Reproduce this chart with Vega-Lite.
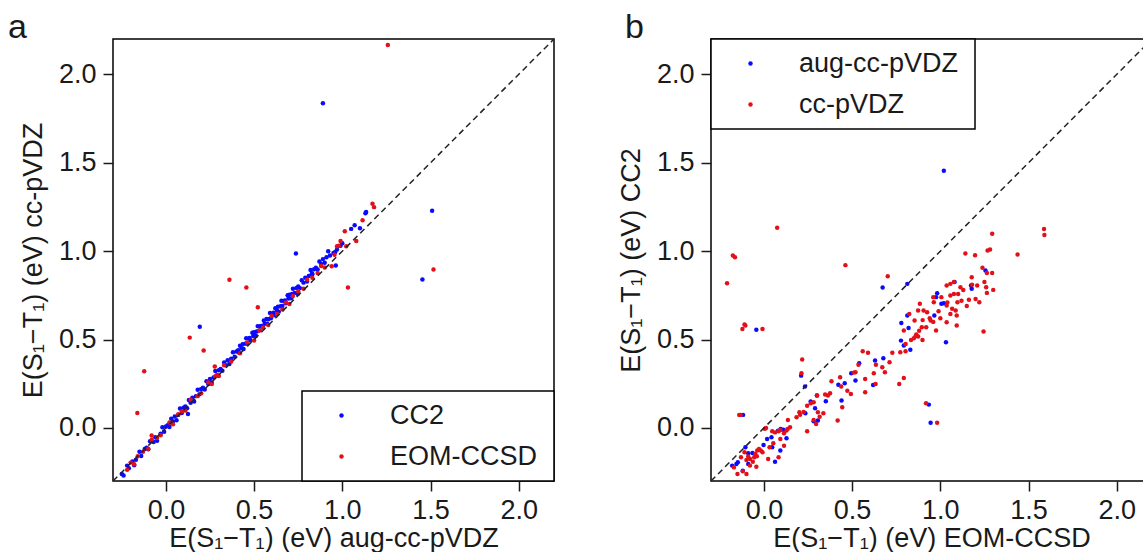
{
"$schema": "https://vega.github.io/schema/vega-lite/v6.json",
"padding": {"left": 7, "top": 10, "right": 0, "bottom": 0},
"spacing": 58,
"resolve": {"scale": {"color": "independent"}, "legend": {"color": "independent"}},
"config": {
  "view": {"stroke": "black", "strokeWidth": 1.5},
  "font": "Liberation Sans",
  "axis": {"domain": false, "grid": false, "tickColor": "#1a1a1a", "tickSize": 10, "tickWidth": 1.5, "labelFont": "Liberation Sans", "labelFontSize": 27, "labelColor": "#1a1a1a", "labelPadding": 7, "titleFont": "Liberation Sans", "titleFontSize": 27, "titleFontWeight": "normal", "titleColor": "#1a1a1a"},
  "axisX": {"titlePadding": 2, "labelPadding": 6},
  "axisY": {"titlePadding": 11},
  "legend": {"labelFont": "Liberation Sans", "labelFontSize": 27, "labelColor": "#1a1a1a", "symbolType": "circle", "symbolSize": 20, "symbolStrokeWidth": 0, "strokeColor": "black", "strokeWidth": 1.5, "fillColor": "white", "padding": 11, "offset": 0, "symbolOffset": 15, "labelOffset": 35, "rowPadding": 13, "titleOrient": "right", "titlePadding": 6, "titleFontSize": 10},
  "title": {"font": "Liberation Sans", "fontSize": 34, "fontWeight": "normal", "color": "#1a1a1a", "anchor": "start", "baseline": "alphabetic", "offset": -9}
},
"datasets": {
  "diag": [{"x": -0.3, "y": -0.3}, {"x": 2.2, "y": 2.2}],
  "a": [
{"s":"CC2","x":-0.25,"y":-0.26},{"s":"CC2","x":-0.24,"y":-0.269},{"s":"CC2","x":-0.22,"y":-0.213},{"s":"CC2","x":-0.21,"y":-0.228},{"s":"CC2","x":-0.19,"y":-0.189},{"s":"CC2","x":-0.18,"y":-0.211},{"s":"CC2","x":-0.17,"y":-0.18},{"s":"CC2","x":-0.15,"y":-0.134},{"s":"CC2","x":-0.14,"y":-0.158},{"s":"CC2","x":-0.12,"y":-0.119},
{"s":"CC2","x":-0.11,"y":-0.112},{"s":"CC2","x":-0.10,"y":-0.121},{"s":"CC2","x":-0.09,"y":-0.075},{"s":"CC2","x":-0.07,"y":-0.079},{"s":"CC2","x":-0.06,"y":-0.052},{"s":"CC2","x":-0.05,"y":-0.073},{"s":"CC2","x":-0.03,"y":-0.032},{"s":"CC2","x":-0.02,"y":0.004},{"s":"CC2","x":-0.01,"y":-0.021},{"s":"CC2","x":0.0,"y":0.008},
{"s":"CC2","x":0.01,"y":0.016},{"s":"CC2","x":0.02,"y":0.006},{"s":"CC2","x":0.03,"y":0.052},{"s":"CC2","x":0.04,"y":0.037},{"s":"CC2","x":0.05,"y":0.065},{"s":"CC2","x":0.06,"y":0.044},{"s":"CC2","x":0.07,"y":0.074},{"s":"CC2","x":0.08,"y":0.11},{"s":"CC2","x":0.09,"y":0.085},{"s":"CC2","x":0.10,"y":0.114},
{"s":"CC2","x":0.11,"y":0.122},{"s":"CC2","x":0.12,"y":0.112},{"s":"CC2","x":0.13,"y":0.158},{"s":"CC2","x":0.14,"y":0.143},{"s":"CC2","x":0.15,"y":0.171},{"s":"CC2","x":0.16,"y":0.15},{"s":"CC2","x":0.17,"y":0.18},{"s":"CC2","x":0.18,"y":0.216},{"s":"CC2","x":0.19,"y":0.191},{"s":"CC2","x":0.20,"y":0.22},
{"s":"CC2","x":0.21,"y":0.228},{"s":"CC2","x":0.22,"y":0.218},{"s":"CC2","x":0.23,"y":0.264},{"s":"CC2","x":0.24,"y":0.249},{"s":"CC2","x":0.25,"y":0.277},{"s":"CC2","x":0.26,"y":0.256},{"s":"CC2","x":0.27,"y":0.286},{"s":"CC2","x":0.28,"y":0.322},{"s":"CC2","x":0.29,"y":0.297},{"s":"CC2","x":0.30,"y":0.326},
{"s":"CC2","x":0.31,"y":0.334},{"s":"CC2","x":0.32,"y":0.324},{"s":"CC2","x":0.33,"y":0.37},{"s":"CC2","x":0.34,"y":0.355},{"s":"CC2","x":0.35,"y":0.383},{"s":"CC2","x":0.36,"y":0.362},{"s":"CC2","x":0.37,"y":0.392},{"s":"CC2","x":0.38,"y":0.428},{"s":"CC2","x":0.39,"y":0.403},{"s":"CC2","x":0.40,"y":0.432},
{"s":"CC2","x":0.41,"y":0.44},{"s":"CC2","x":0.415,"y":0.425},{"s":"CC2","x":0.42,"y":0.465},{"s":"CC2","x":0.43,"y":0.451},{"s":"CC2","x":0.435,"y":0.473},{"s":"CC2","x":0.44,"y":0.446},{"s":"CC2","x":0.45,"y":0.477},{"s":"CC2","x":0.455,"y":0.507},{"s":"CC2","x":0.46,"y":0.478},{"s":"CC2","x":0.47,"y":0.506},
{"s":"CC2","x":0.475,"y":0.509},{"s":"CC2","x":0.48,"y":0.494},{"s":"CC2","x":0.49,"y":0.539},{"s":"CC2","x":0.495,"y":0.52},{"s":"CC2","x":0.50,"y":0.542},{"s":"CC2","x":0.51,"y":0.521},{"s":"CC2","x":0.515,"y":0.546},{"s":"CC2","x":0.52,"y":0.576},{"s":"CC2","x":0.53,"y":0.552},{"s":"CC2","x":0.535,"y":0.575},
{"s":"CC2","x":0.54,"y":0.577},{"s":"CC2","x":0.55,"y":0.568},{"s":"CC2","x":0.555,"y":0.608},{"s":"CC2","x":0.56,"y":0.589},{"s":"CC2","x":0.57,"y":0.616},{"s":"CC2","x":0.575,"y":0.59},{"s":"CC2","x":0.58,"y":0.615},{"s":"CC2","x":0.59,"y":0.65},{"s":"CC2","x":0.595,"y":0.621},{"s":"CC2","x":0.60,"y":0.644},
{"s":"CC2","x":0.61,"y":0.652},{"s":"CC2","x":0.615,"y":0.637},{"s":"CC2","x":0.62,"y":0.677},{"s":"CC2","x":0.63,"y":0.663},{"s":"CC2","x":0.635,"y":0.685},{"s":"CC2","x":0.64,"y":0.658},{"s":"CC2","x":0.65,"y":0.689},{"s":"CC2","x":0.655,"y":0.719},{"s":"CC2","x":0.66,"y":0.69},{"s":"CC2","x":0.67,"y":0.718},
{"s":"CC2","x":0.675,"y":0.721},{"s":"CC2","x":0.68,"y":0.706},{"s":"CC2","x":0.69,"y":0.751},{"s":"CC2","x":0.695,"y":0.732},{"s":"CC2","x":0.70,"y":0.754},{"s":"CC2","x":0.71,"y":0.733},{"s":"CC2","x":0.715,"y":0.758},{"s":"CC2","x":0.72,"y":0.788},{"s":"CC2","x":0.73,"y":0.764},{"s":"CC2","x":0.74,"y":0.792},
{"s":"CC2","x":0.75,"y":0.8},{"s":"CC2","x":0.76,"y":0.791},{"s":"CC2","x":0.77,"y":0.836},{"s":"CC2","x":0.78,"y":0.822},{"s":"CC2","x":0.79,"y":0.849},{"s":"CC2","x":0.80,"y":0.828},{"s":"CC2","x":0.81,"y":0.859},{"s":"CC2","x":0.82,"y":0.894},{"s":"CC2","x":0.83,"y":0.87},{"s":"CC2","x":0.84,"y":0.898},
{"s":"CC2","x":0.85,"y":0.906},{"s":"CC2","x":0.86,"y":0.897},{"s":"CC2","x":0.87,"y":0.942},{"s":"CC2","x":0.88,"y":0.928},{"s":"CC2","x":0.89,"y":0.955},{"s":"CC2","x":0.90,"y":0.934},{"s":"CC2","x":0.91,"y":0.965},{"s":"CC2","x":0.92,"y":1.0},{"s":"CC2","x":0.93,"y":0.976},
{"s":"CC2","x":0.89,"y":1.836},{"s":"CC2","x":1.509,"y":1.228},{"s":"CC2","x":1.454,"y":0.84},{"s":"CC2","x":0.737,"y":0.987},{"s":"CC2","x":0.963,"y":0.919},{"s":"CC2","x":0.828,"y":0.875},{"s":"CC2","x":1.07,"y":1.147},{"s":"CC2","x":1.05,"y":1.126},{"s":"CC2","x":1.10,"y":1.13},{"s":"CC2","x":1.131,"y":1.215},{"s":"CC2","x":1.135,"y":1.222},{"s":"CC2","x":0.192,"y":0.572},{"s":"CC2","x":0.125,"y":0.079},{"s":"CC2","x":0.747,"y":0.758},{"s":"CC2","x":0.95,"y":0.99},{"s":"CC2","x":0.97,"y":1.01},{"s":"CC2","x":0.99,"y":1.03},{"s":"CC2","x":1.0,"y":1.045},{"s":"CC2","x":0.96,"y":0.995},
{"s":"EOM-CCSD","x":-0.22,"y":-0.237},{"s":"EOM-CCSD","x":-0.2,"y":-0.196},{"s":"EOM-CCSD","x":-0.18,"y":-0.205},{"s":"EOM-CCSD","x":-0.16,"y":-0.16},{"s":"EOM-CCSD","x":-0.13,"y":-0.134},{"s":"EOM-CCSD","x":-0.1,"y":-0.118},{"s":"EOM-CCSD","x":-0.08,"y":-0.067},{"s":"EOM-CCSD","x":-0.05,"y":-0.057},{"s":"EOM-CCSD","x":-0.03,"y":-0.041},{"s":"EOM-CCSD","x":0.02,"y":0.031},
{"s":"EOM-CCSD","x":0.04,"y":0.021},{"s":"EOM-CCSD","x":0.07,"y":0.077},{"s":"EOM-CCSD","x":0.09,"y":0.093},{"s":"EOM-CCSD","x":0.11,"y":0.098},{"s":"EOM-CCSD","x":0.14,"y":0.159},{"s":"EOM-CCSD","x":0.18,"y":0.18},{"s":"EOM-CCSD","x":0.2,"y":0.196},{"s":"EOM-CCSD","x":0.24,"y":0.257},{"s":"EOM-CCSD","x":0.26,"y":0.248},{"s":"EOM-CCSD","x":0.28,"y":0.293},
{"s":"EOM-CCSD","x":0.29,"y":0.299},{"s":"EOM-CCSD","x":0.3,"y":0.294},{"s":"EOM-CCSD","x":0.33,"y":0.355},{"s":"EOM-CCSD","x":0.37,"y":0.376},{"s":"EOM-CCSD","x":0.42,"y":0.423},{"s":"EOM-CCSD","x":0.46,"y":0.484},{"s":"EOM-CCSD","x":0.5,"y":0.495},{"s":"EOM-CCSD","x":0.53,"y":0.551},{"s":"EOM-CCSD","x":0.55,"y":0.567},{"s":"EOM-CCSD","x":0.58,"y":0.582},
{"s":"EOM-CCSD","x":0.6,"y":0.633},{"s":"EOM-CCSD","x":0.63,"y":0.644},{"s":"EOM-CCSD","x":0.66,"y":0.67},{"s":"EOM-CCSD","x":0.68,"y":0.71},{"s":"EOM-CCSD","x":0.7,"y":0.701},{"s":"EOM-CCSD","x":0.72,"y":0.747},{"s":"EOM-CCSD","x":0.75,"y":0.773},{"s":"EOM-CCSD","x":0.78,"y":0.788},{"s":"EOM-CCSD","x":0.8,"y":0.839},{"s":"EOM-CCSD","x":0.83,"y":0.85},
{"s":"EOM-CCSD","x":0.86,"y":0.876},{"s":"EOM-CCSD","x":0.88,"y":0.916},{"s":"EOM-CCSD","x":0.9,"y":0.907},
{"s":"EOM-CCSD","x":1.258,"y":2.166},{"s":"EOM-CCSD","x":1.517,"y":0.896},{"s":"EOM-CCSD","x":1.171,"y":1.268},{"s":"EOM-CCSD","x":1.18,"y":1.249},{"s":"EOM-CCSD","x":1.115,"y":1.175},{"s":"EOM-CCSD","x":1.014,"y":1.113},{"s":"EOM-CCSD","x":1.079,"y":1.057},{"s":"EOM-CCSD","x":0.99,"y":1.057},{"s":"EOM-CCSD","x":0.97,"y":1.028},{"s":"EOM-CCSD","x":0.98,"y":1.03},
{"s":"EOM-CCSD","x":1.022,"y":1.028},{"s":"EOM-CCSD","x":0.94,"y":0.915},{"s":"EOM-CCSD","x":0.956,"y":0.98},{"s":"EOM-CCSD","x":0.36,"y":0.838},{"s":"EOM-CCSD","x":0.456,"y":0.794},{"s":"EOM-CCSD","x":1.032,"y":0.794},{"s":"EOM-CCSD","x":0.521,"y":0.683},{"s":"EOM-CCSD","x":0.135,"y":0.511},{"s":"EOM-CCSD","x":0.214,"y":0.438},{"s":"EOM-CCSD","x":-0.123,"y":0.321},
{"s":"EOM-CCSD","x":0.277,"y":0.347},{"s":"EOM-CCSD","x":-0.162,"y":0.085},{"s":"EOM-CCSD","x":-0.081,"y":-0.043}
  ],
  "b": [
{"s":"aug-cc-pVDZ","x":1.02,"y":1.455},{"s":"aug-cc-pVDZ","x":1.256,"y":0.89},{"s":"aug-cc-pVDZ","x":0.673,"y":0.794},{"s":"aug-cc-pVDZ","x":0.813,"y":0.815},{"s":"aug-cc-pVDZ","x":1.081,"y":0.825},{"s":"aug-cc-pVDZ","x":1.174,"y":0.806},{"s":"aug-cc-pVDZ","x":1.178,"y":0.787},{"s":"aug-cc-pVDZ","x":0.982,"y":0.762},{"s":"aug-cc-pVDZ","x":0.976,"y":0.74},{"s":"aug-cc-pVDZ","x":1.006,"y":0.702},
{"s":"aug-cc-pVDZ","x":1.02,"y":0.706},{"s":"aug-cc-pVDZ","x":0.966,"y":0.636},{"s":"aug-cc-pVDZ","x":1.032,"y":0.485},{"s":"aug-cc-pVDZ","x":0.779,"y":0.594},{"s":"aug-cc-pVDZ","x":0.813,"y":0.636},{"s":"aug-cc-pVDZ","x":0.82,"y":0.566},{"s":"aug-cc-pVDZ","x":0.777,"y":0.494},{"s":"aug-cc-pVDZ","x":0.793,"y":0.466},{"s":"aug-cc-pVDZ","x":0.83,"y":0.442},{"s":"aug-cc-pVDZ","x":0.677,"y":0.394},
{"s":"aug-cc-pVDZ","x":0.63,"y":0.381},{"s":"aug-cc-pVDZ","x":0.619,"y":0.243},{"s":"aug-cc-pVDZ","x":0.54,"y":0.366},{"s":"aug-cc-pVDZ","x":0.495,"y":0.309},{"s":"aug-cc-pVDZ","x":0.519,"y":0.268},{"s":"aug-cc-pVDZ","x":0.458,"y":0.253},{"s":"aug-cc-pVDZ","x":0.422,"y":0.245},{"s":"aug-cc-pVDZ","x":0.44,"y":0.155},{"s":"aug-cc-pVDZ","x":0.351,"y":0.151},{"s":"aug-cc-pVDZ","x":0.306,"y":0.042},
{"s":"aug-cc-pVDZ","x":0.282,"y":0.038},{"s":"aug-cc-pVDZ","x":0.30,"y":0.183},{"s":"aug-cc-pVDZ","x":0.235,"y":0.083},{"s":"aug-cc-pVDZ","x":0.29,"y":0.111},{"s":"aug-cc-pVDZ","x":0.233,"y":0.234},{"s":"aug-cc-pVDZ","x":0.211,"y":0.296},{"s":"aug-cc-pVDZ","x":0.128,"y":-0.058},{"s":"aug-cc-pVDZ","x":0.095,"y":-0.006},{"s":"aug-cc-pVDZ","x":0.08,"y":-0.015},{"s":"aug-cc-pVDZ","x":0.043,"y":-0.053},
{"s":"aug-cc-pVDZ","x":0.018,"y":-0.062},{"s":"aug-cc-pVDZ","x":-0.002,"y":-0.096},{"s":"aug-cc-pVDZ","x":0.047,"y":-0.109},{"s":"aug-cc-pVDZ","x":0.093,"y":-0.128},{"s":"aug-cc-pVDZ","x":0.063,"y":-0.191},{"s":"aug-cc-pVDZ","x":-0.065,"y":-0.142},{"s":"aug-cc-pVDZ","x":-0.089,"y":-0.143},{"s":"aug-cc-pVDZ","x":-0.105,"y":-0.109},{"s":"aug-cc-pVDZ","x":-0.089,"y":-0.204},{"s":"aug-cc-pVDZ","x":-0.148,"y":-0.194},
{"s":"aug-cc-pVDZ","x":-0.156,"y":-0.204},{"s":"aug-cc-pVDZ","x":-0.18,"y":-0.213},{"s":"aug-cc-pVDZ","x":-0.12,"y":-0.242},{"s":"aug-cc-pVDZ","x":-0.118,"y":0.074},{"s":"aug-cc-pVDZ","x":-0.043,"y":0.555},{"s":"aug-cc-pVDZ","x":0.935,"y":0.132},{"s":"aug-cc-pVDZ","x":0.945,"y":0.03},{"s":"aug-cc-pVDZ","x":0.11,"y":-0.01},{"s":"aug-cc-pVDZ","x":0.265,"y":0.15},
{"s":"cc-pVDZ","x":0.075,"y":1.132},{"s":"cc-pVDZ","x":-0.176,"y":0.975},{"s":"cc-pVDZ","x":-0.164,"y":0.966},{"s":"cc-pVDZ","x":0.462,"y":0.921},{"s":"cc-pVDZ","x":1.294,"y":1.098},{"s":"cc-pVDZ","x":1.588,"y":1.125},{"s":"cc-pVDZ","x":1.59,"y":1.092},{"s":"cc-pVDZ","x":1.142,"y":0.987},{"s":"cc-pVDZ","x":1.197,"y":0.977},{"s":"cc-pVDZ","x":1.268,"y":1.004},
{"s":"cc-pVDZ","x":1.282,"y":1.009},{"s":"cc-pVDZ","x":1.438,"y":0.981},{"s":"cc-pVDZ","x":1.239,"y":0.906},{"s":"cc-pVDZ","x":1.264,"y":0.877},{"s":"cc-pVDZ","x":1.294,"y":0.877},{"s":"cc-pVDZ","x":0.702,"y":0.858},{"s":"cc-pVDZ","x":1.178,"y":0.853},{"s":"cc-pVDZ","x":-0.209,"y":0.819},{"s":"cc-pVDZ","x":1.036,"y":0.806},{"s":"cc-pVDZ","x":1.057,"y":0.815},
{"s":"cc-pVDZ","x":1.077,"y":0.825},{"s":"cc-pVDZ","x":1.114,"y":0.796},{"s":"cc-pVDZ","x":1.209,"y":0.806},{"s":"cc-pVDZ","x":1.25,"y":0.825},{"s":"cc-pVDZ","x":1.26,"y":0.796},{"s":"cc-pVDZ","x":1.30,"y":0.781},{"s":"cc-pVDZ","x":1.264,"y":0.764},{"s":"cc-pVDZ","x":1.162,"y":0.725},{"s":"cc-pVDZ","x":1.221,"y":0.711},{"s":"cc-pVDZ","x":1.077,"y":0.758},
{"s":"cc-pVDZ","x":1.101,"y":0.758},{"s":"cc-pVDZ","x":1.057,"y":0.749},{"s":"cc-pVDZ","x":1.006,"y":0.74},{"s":"cc-pVDZ","x":0.963,"y":0.711},{"s":"cc-pVDZ","x":1.097,"y":0.711},{"s":"cc-pVDZ","x":1.036,"y":0.692},{"s":"cc-pVDZ","x":1.067,"y":0.674},{"s":"cc-pVDZ","x":1.087,"y":0.664},{"s":"cc-pVDZ","x":1.057,"y":0.645},{"s":"cc-pVDZ","x":1.093,"y":0.636},
{"s":"cc-pVDZ","x":1.036,"y":0.598},{"s":"cc-pVDZ","x":1.093,"y":0.579},{"s":"cc-pVDZ","x":1.245,"y":0.545},{"s":"cc-pVDZ","x":0.976,"y":0.551},{"s":"cc-pVDZ","x":0.945,"y":0.608},{"s":"cc-pVDZ","x":0.925,"y":0.655},{"s":"cc-pVDZ","x":0.905,"y":0.664},{"s":"cc-pVDZ","x":0.884,"y":0.702},{"s":"cc-pVDZ","x":0.874,"y":0.664},{"s":"cc-pVDZ","x":0.854,"y":0.608},
{"s":"cc-pVDZ","x":0.895,"y":0.57},{"s":"cc-pVDZ","x":0.899,"y":0.498},{"s":"cc-pVDZ","x":0.874,"y":0.517},{"s":"cc-pVDZ","x":0.864,"y":0.528},{"s":"cc-pVDZ","x":0.85,"y":0.508},{"s":"cc-pVDZ","x":0.834,"y":0.498},{"s":"cc-pVDZ","x":0.803,"y":0.475},{"s":"cc-pVDZ","x":0.824,"y":0.645},{"s":"cc-pVDZ","x":0.793,"y":0.551},{"s":"cc-pVDZ","x":0.773,"y":0.428},
{"s":"cc-pVDZ","x":0.803,"y":0.434},{"s":"cc-pVDZ","x":0.793,"y":0.283},{"s":"cc-pVDZ","x":0.767,"y":0.249},{"s":"cc-pVDZ","x":0.728,"y":0.426},{"s":"cc-pVDZ","x":0.712,"y":0.372},{"s":"cc-pVDZ","x":0.686,"y":0.315},{"s":"cc-pVDZ","x":0.671,"y":0.343},{"s":"cc-pVDZ","x":0.635,"y":0.358},{"s":"cc-pVDZ","x":0.59,"y":0.425},{"s":"cc-pVDZ","x":0.56,"y":0.434},
{"s":"cc-pVDZ","x":0.623,"y":0.309},{"s":"cc-pVDZ","x":0.633,"y":0.249},{"s":"cc-pVDZ","x":0.574,"y":0.277},{"s":"cc-pVDZ","x":0.574,"y":0.202},{"s":"cc-pVDZ","x":0.536,"y":0.358},{"s":"cc-pVDZ","x":0.509,"y":0.313},{"s":"cc-pVDZ","x":0.519,"y":0.315},{"s":"cc-pVDZ","x":0.473,"y":0.211},{"s":"cc-pVDZ","x":0.493,"y":0.192},{"s":"cc-pVDZ","x":0.432,"y":0.287},
{"s":"cc-pVDZ","x":0.438,"y":0.234},{"s":"cc-pVDZ","x":0.383,"y":0.264},{"s":"cc-pVDZ","x":0.444,"y":0.117},{"s":"cc-pVDZ","x":0.418,"y":0.042},{"s":"cc-pVDZ","x":0.375,"y":0.196},{"s":"cc-pVDZ","x":0.363,"y":0.183},{"s":"cc-pVDZ","x":0.347,"y":0.189},{"s":"cc-pVDZ","x":0.337,"y":0.083},{"s":"cc-pVDZ","x":0.306,"y":0.089},{"s":"cc-pVDZ","x":0.316,"y":0.064},
{"s":"cc-pVDZ","x":0.296,"y":0.023},{"s":"cc-pVDZ","x":0.282,"y":0.045},{"s":"cc-pVDZ","x":0.302,"y":0.183},{"s":"cc-pVDZ","x":0.282,"y":0.145},{"s":"cc-pVDZ","x":0.266,"y":0.14},{"s":"cc-pVDZ","x":0.245,"y":0.126},{"s":"cc-pVDZ","x":0.225,"y":0.09},{"s":"cc-pVDZ","x":0.201,"y":0.089},{"s":"cc-pVDZ","x":0.205,"y":0.075},{"s":"cc-pVDZ","x":0.185,"y":0.06},
{"s":"cc-pVDZ","x":0.245,"y":-0.019},{"s":"cc-pVDZ","x":0.213,"y":0.309},{"s":"cc-pVDZ","x":0.217,"y":0.387},{"s":"cc-pVDZ","x":0.136,"y":0.045},{"s":"cc-pVDZ","x":0.148,"y":0.004},{"s":"cc-pVDZ","x":0.134,"y":-0.006},{"s":"cc-pVDZ","x":0.128,"y":-0.015},{"s":"cc-pVDZ","x":0.114,"y":-0.03},{"s":"cc-pVDZ","x":0.093,"y":-0.011},{"s":"cc-pVDZ","x":0.083,"y":-0.019},
{"s":"cc-pVDZ","x":0.063,"y":-0.025},{"s":"cc-pVDZ","x":0.047,"y":-0.019},{"s":"cc-pVDZ","x":0.012,"y":0.0},{"s":"cc-pVDZ","x":0.005,"y":-0.005},{"s":"cc-pVDZ","x":0.053,"y":-0.087},{"s":"cc-pVDZ","x":0.032,"y":-0.109},{"s":"cc-pVDZ","x":0.093,"y":-0.062},{"s":"cc-pVDZ","x":0.083,"y":-0.166},{"s":"cc-pVDZ","x":0.114,"y":-0.1},{"s":"cc-pVDZ","x":0.024,"y":-0.175},
{"s":"cc-pVDZ","x":-0.008,"y":-0.138},{"s":"cc-pVDZ","x":-0.018,"y":-0.128},{"s":"cc-pVDZ","x":-0.028,"y":-0.119},{"s":"cc-pVDZ","x":-0.038,"y":-0.128},{"s":"cc-pVDZ","x":-0.049,"y":-0.147},{"s":"cc-pVDZ","x":-0.055,"y":-0.166},{"s":"cc-pVDZ","x":-0.04,"y":-0.16},{"s":"cc-pVDZ","x":-0.063,"y":-0.191},{"s":"cc-pVDZ","x":-0.043,"y":-0.219},{"s":"cc-pVDZ","x":-0.079,"y":-0.175},
{"s":"cc-pVDZ","x":-0.089,"y":-0.162},{"s":"cc-pVDZ","x":-0.099,"y":-0.181},{"s":"cc-pVDZ","x":-0.11,"y":-0.138},{"s":"cc-pVDZ","x":-0.079,"y":-0.213},{"s":"cc-pVDZ","x":-0.17,"y":-0.223},{"s":"cc-pVDZ","x":-0.12,"y":-0.245},{"s":"cc-pVDZ","x":-0.099,"y":-0.26},{"s":"cc-pVDZ","x":-0.15,"y":-0.26},{"s":"cc-pVDZ","x":-0.13,"y":-0.166},{"s":"cc-pVDZ","x":-0.14,"y":0.074},
{"s":"cc-pVDZ","x":-0.132,"y":0.074},{"s":"cc-pVDZ","x":-0.122,"y":0.56},{"s":"cc-pVDZ","x":-0.11,"y":0.585},{"s":"cc-pVDZ","x":-0.105,"y":0.58},{"s":"cc-pVDZ","x":-0.008,"y":0.56},{"s":"cc-pVDZ","x":0.919,"y":0.14},{"s":"cc-pVDZ","x":0.982,"y":0.03},{"s":"cc-pVDZ","x":0.96,"y":0.74},{"s":"cc-pVDZ","x":0.99,"y":0.66},{"s":"cc-pVDZ","x":1.12,"y":0.72},
{"s":"cc-pVDZ","x":1.15,"y":0.69},{"s":"cc-pVDZ","x":1.0,"y":0.62},{"s":"cc-pVDZ","x":0.94,"y":0.62},{"s":"cc-pVDZ","x":0.92,"y":0.57},{"s":"cc-pVDZ","x":0.96,"y":0.6},{"s":"cc-pVDZ","x":1.2,"y":0.73},{"s":"cc-pVDZ","x":1.18,"y":0.81},{"s":"cc-pVDZ","x":1.13,"y":0.78},{"s":"cc-pVDZ","x":1.04,"y":0.71},{"s":"cc-pVDZ","x":0.9,"y":0.61},
{"s":"cc-pVDZ","x":0.88,"y":0.55},{"s":"cc-pVDZ","x":0.86,"y":0.52}
  ]
},
"hconcat": [
  {
    "width": 441, "height": 442,
    "title": {"text": "a", "dx": -11.5},
    "layer": [
      {"data": {"name": "a"}, "mark": {"type": "circle", "size": 20, "opacity": 1},
       "encoding": {
         "x": {"field": "x", "type": "quantitative", "scale": {"domain": [-0.3, 2.2], "nice": false, "zero": false}, "axis": {"values": [0, 0.5, 1, 1.5, 2], "format": ".1f", "title": "E(S₁−T₁) (eV) aug-cc-pVDZ"}},
         "y": {"field": "y", "type": "quantitative", "scale": {"domain": [-0.3, 2.2], "nice": false, "zero": false}, "axis": {"values": [0, 0.5, 1, 1.5, 2], "format": ".1f", "title": "E(S₁−T₁) (eV) cc-pVDZ"}},
         "color": {"field": "s", "type": "nominal", "scale": {"domain": ["CC2", "EOM-CCSD"], "range": ["#0a0aff", "#e3101a"]}, "legend": {"title": " ", "orient": "bottom-right"}}
       }},
      {"data": {"name": "diag"}, "mark": {"type": "line", "strokeDash": [6, 4], "color": "#222222", "strokeWidth": 1.5},
       "encoding": {"x": {"field": "x", "type": "quantitative"}, "y": {"field": "y", "type": "quantitative"}}}
    ]
  },
  {
    "width": 441, "height": 442,
    "title": {"text": "b", "dx": 7.5},
    "layer": [
      {"data": {"name": "b"}, "mark": {"type": "circle", "size": 20, "opacity": 1},
       "encoding": {
         "x": {"field": "x", "type": "quantitative", "scale": {"domain": [-0.3, 2.2], "nice": false, "zero": false}, "axis": {"values": [0, 0.5, 1, 1.5, 2], "format": ".1f", "title": "E(S₁−T₁) (eV) EOM-CCSD"}},
         "y": {"field": "y", "type": "quantitative", "scale": {"domain": [-0.3, 2.2], "nice": false, "zero": false}, "axis": {"values": [0, 0.5, 1, 1.5, 2], "format": ".1f", "title": "E(S₁−T₁) (eV) CC2"}},
         "color": {"field": "s", "type": "nominal", "scale": {"domain": ["aug-cc-pVDZ", "cc-pVDZ"], "range": ["#0a0aff", "#e3101a"]}, "legend": {"title": " ", "orient": "top-left"}}
       }},
      {"data": {"name": "diag"}, "mark": {"type": "line", "strokeDash": [6, 4], "color": "#222222", "strokeWidth": 1.5},
       "encoding": {"x": {"field": "x", "type": "quantitative"}, "y": {"field": "y", "type": "quantitative"}}}
    ]
  }
]
}
